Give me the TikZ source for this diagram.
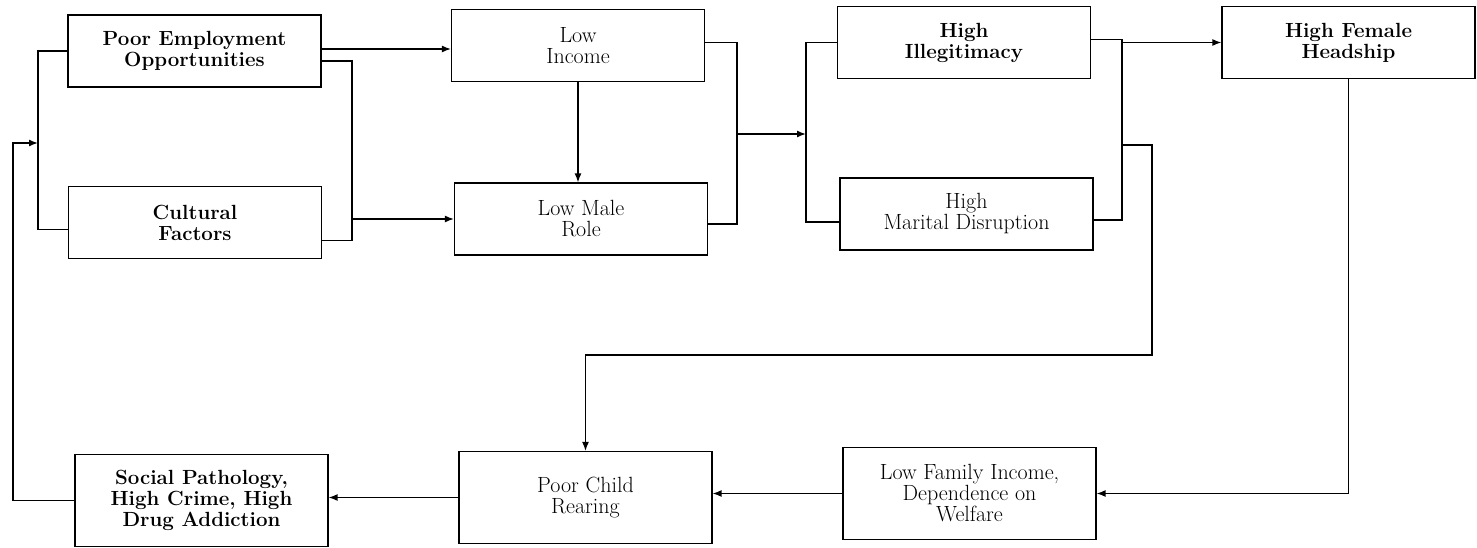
\documentclass[tikz,border=0pt]{standalone}
\usetikzlibrary{arrows.meta}
\begin{document}
\begin{tikzpicture}[x=1pt,y=-1pt,
    box/.style={draw,line width=1.2pt,minimum width=253pt,minimum height=72pt,
      align=center,inner sep=2pt,font=\fontsize{22}{21}\selectfont},
    strong/.style={box,font=\fontsize{20.5}{21}\selectfont\bfseries},
    tallbox/.style={minimum height=92pt},
    link/.style={line width=1.4pt},
    arr/.style={link,-{Latex[length=9pt,width=7pt]}}]
    \useasboundingbox (0,0) rectangle (1477,548);
        \node[strong] (emp) at (194.5,51) {Poor Employment\\Opportunities};
        \node[strong] (cult) at (195,222.5) {Cultural\\Factors};
        \node[box] (inc) at (578,45.5) {Low\\Income};
        \node[box] (male) at (581,219) {Low Male\\Role};
        \node[strong] (illeg) at (964,42.5) {High\\Illegitimacy};
        \node[box] (marit) at (966.5,214) {High\\Marital Disruption};
        \node[strong] (head) at (1348.5,42.5) {High Female\\Headship};
        \node[strong,tallbox] (soc) at (201.5,500.5) {Social Pathology,\\High Crime, High\\Drug Addiction};
        \node[box,tallbox] (child) at (585.5,497.5) {Poor Child\\Rearing};
        \node[box,tallbox] (fam) at (969.5,493.5) {Low Family Income,\\Dependence on\\Welfare};
        \coordinate (b0) at (38,143);
        \coordinate (c0) at (13,143);
        \coordinate (b1) at (352,130);
        \coordinate (b2) at (737,134);
        \coordinate (b3) at (806,134);
        \coordinate (b4) at (1122,145);
        \coordinate (b5) at (1152,355);
        \draw[link] (emp.west) -| (b0) |- ([yshift=-7pt]cult.west);
        \draw[arr] (soc.west) -| (c0) -- (b0);
        \draw[arr] ([yshift=2pt]emp.east) -- ([yshift=2pt]emp.east -| inc.west);
        \draw[link] ([yshift=-10pt]emp.east) -| (b1) |- ([yshift=-18pt]cult.east);
        \draw[arr] (b1 |- male.west) -- (male.west);
        \draw[arr] (inc.south) -- (inc.south |- male.north);
        \draw[link] ([yshift=3pt]inc.east) -| (b2) |- ([yshift=-5pt]male.east);
        \draw[arr] (b2) -- (b3);
        \draw[link] (illeg.west) -| (b3) |- ([yshift=-8pt]marit.west);
        \draw[link] ([yshift=3pt]illeg.east) -| (b4) |- ([yshift=-6pt]marit.east);
        \draw[arr] (b4 |- head.west) -- (head.west);
        \draw[arr] (b4) -| (b5) -| (child.north);
        \draw[arr] (head.south) |- (fam.east);
        \draw[arr] (fam.west) -- (fam.west -| child.east);
        \draw[arr] (child.west) -- (child.west -| soc.east);
\end{tikzpicture}
\end{document}
